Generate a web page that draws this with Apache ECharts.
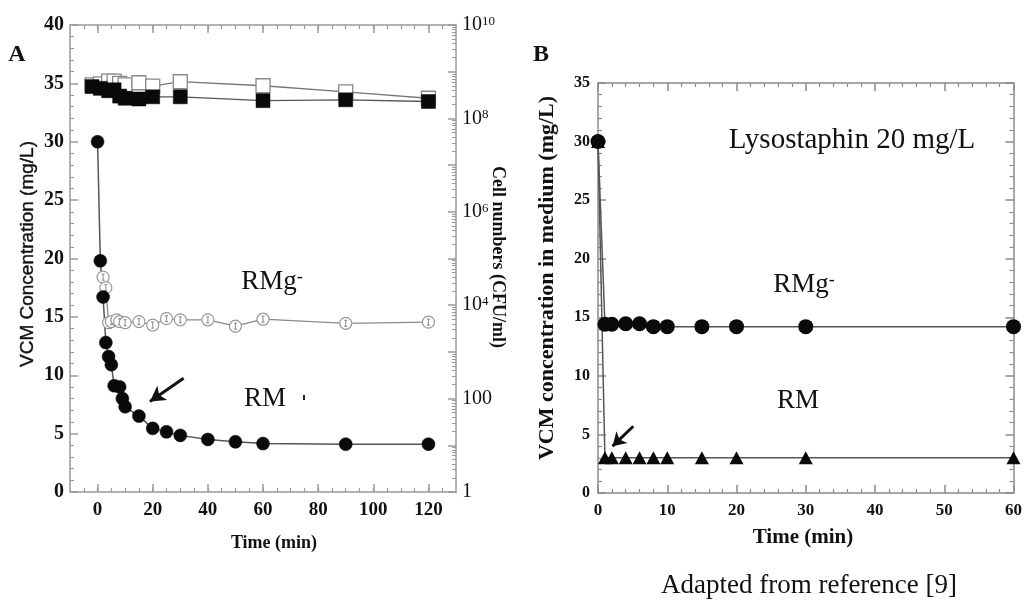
<!DOCTYPE html>
<html>
<head>
<meta charset="utf-8">
<script src="https://cdn.jsdelivr.net/npm/echarts@6/dist/echarts.min.js"></script>
<style>
  html, body { margin: 0; padding: 0; background: #fff; }
  #chart { width: 1025px; height: 602px; }
</style>
</head>
<body>
<div id="chart"></div>
<script>
// ---------- Panel A: VCM in medium and viable cells ----------
// RM medium, VCM concentration (mg/L)
const timeRM_A = [0, 1, 2, 3, 4, 5, 6, 8, 9, 10, 15, 20, 25, 30, 40, 50, 60, 90, 120];
const vcmRM_A  = [30.0, 19.8, 16.7, 12.8, 11.6, 10.9, 9.1, 9.0, 8.0, 7.3, 6.5, 5.45, 5.15, 4.85, 4.5, 4.3, 4.15, 4.1, 4.1];
// RMg- medium, VCM concentration (mg/L)
const timeRMg_A = [2, 3, 4, 5, 7, 8, 10, 15, 20, 25, 30, 40, 50, 60, 90, 120];
const vcmRMg_A  = [18.4, 17.5, 14.5, 14.6, 14.75, 14.6, 14.5, 14.6, 14.3, 14.85, 14.75, 14.75, 14.2, 14.8, 14.45, 14.55];
// Cell numbers (CFU/ml)
const timeCells_A = [-2, 1, 4, 6, 8, 10, 15, 20, 30, 60, 90, 120];
const cellsRM_A   = [4.8e8, 4.4e8, 3.9e8, 4.1e8, 3.0e8, 2.7e8, 2.6e8, 2.9e8, 2.9e8, 2.4e8, 2.5e8, 2.3e8];
const cellsRMg_A  = [5.2e8, 5.5e8, 6.3e8, 6.3e8, 5.6e8, 5.2e8, 5.8e8, 4.9e8, 6.1e8, 5.0e8, 3.7e8, 2.7e8];

// Axis ticks, panel A
const xLabelsA   = [0, 20, 40, 60, 80, 100, 120];
const xMinorA    = [-5, 0, 5, 10, 15, 20, 25, 30, 35, 40, 45, 50, 55, 60, 65, 70, 75, 80, 85, 90, 95, 100, 105, 110, 115, 120, 125];
const cellDecades = [1, 1e1, 1e2, 1e3, 1e4, 1e5, 1e6, 1e7, 1e8, 1e9, 1e10];
const cellLabels  = [1, 1e2, 1e4, 1e6, 1e8, 1e10];

// ---------- Panel B: Lysostaphin 20 mg/L ----------
const timeB    = [0, 1, 2, 4, 6, 8, 10, 15, 20, 30, 60];
const vcmRMg_B = [30, 14.4, 14.4, 14.45, 14.45, 14.2, 14.2, 14.2, 14.2, 14.2, 14.2];
const vcmRM_B  = [30, 3.0, 3.0, 3.0, 3.0, 3.0, 3.0, 3.0, 3.0, 3.0, 3.0];

// log-axis minor tick positions: 2..9 within every decade
const cellMinor = [];
for (let e = 0; e < 10; e++) for (let k = 2; k <= 9; k++) cellMinor.push(k * Math.pow(10, e));

const pairs = (xs, ys) => xs.map((x, i) => [x, ys[i]]);

const AX_A = '#9a9a9a';
const AX_B = '#8a8a8a';
const SERIF = '"Liberation Serif", "DejaVu Serif", serif';
const SANS = '"Liberation Sans", Arial, sans-serif';

const openCirclePath = 'path://M0,-10A10,10 0 1,1 0,10A10,10 0 1,1 0,-10Z M-2.5,-5L2.5,-5M0,-5L0,5M-2.5,5L2.5,5';

const chart = echarts.init(document.getElementById('chart'), null, { renderer: 'canvas' });

const option = {
  backgroundColor: '#fff',
  animation: false,
  grid: [
    { left: 70, top: 25, width: 386, height: 467 },
    { left: 598, top: 83, width: 421, height: 410 }
  ],
  xAxis: [
    { // A bottom, labelled
      gridIndex: 0, type: 'value', min: -10, max: 130, position: 'bottom',
      axisLine: { show: true, onZero: false, lineStyle: { color: AX_A, width: 1.5 } },
      axisTick: { show: true, inside: true, length: 8, customValues: xLabelsA, lineStyle: { color: AX_A, width: 1.5 } },
      axisLabel: { customValues: xLabelsA, margin: 9, color: '#111', fontFamily: SERIF, fontWeight: 'bold', fontSize: 19 },
      splitLine: { show: false }
    },
    { // A bottom, minor ticks
      gridIndex: 0, type: 'value', min: -10, max: 130, position: 'bottom',
      axisLine: { show: false, onZero: false },
      axisTick: { show: true, inside: true, length: 4, customValues: xMinorA, lineStyle: { color: AX_A, width: 1.2 } },
      axisLabel: { show: false }, splitLine: { show: false }
    },
    { // A top frame
      gridIndex: 0, type: 'value', min: -10, max: 130, position: 'top',
      axisLine: { show: true, onZero: false, lineStyle: { color: AX_A, width: 1.5 } },
      axisTick: { show: true, inside: true, length: 8, customValues: xLabelsA, lineStyle: { color: AX_A, width: 1.5 } },
      axisLabel: { show: false }, splitLine: { show: false }
    },
    { // A top minor
      gridIndex: 0, type: 'value', min: -10, max: 130, position: 'top',
      axisLine: { show: false, onZero: false },
      axisTick: { show: true, inside: true, length: 4, customValues: xMinorA, lineStyle: { color: AX_A, width: 1.2 } },
      axisLabel: { show: false }, splitLine: { show: false }
    },
    { // B bottom
      gridIndex: 1, type: 'value', min: 0, max: 60, interval: 10, position: 'bottom',
      axisLine: { show: true, onZero: false, lineStyle: { color: AX_B, width: 1.5 } },
      axisTick: { show: true, inside: true, length: 8, lineStyle: { color: AX_B, width: 1.5 } },
      minorTick: { show: true, splitNumber: 5, length: 4, lineStyle: { color: AX_B, width: 1.2 } },
      axisLabel: { margin: 9, color: '#111', fontFamily: SERIF, fontWeight: 'bold', fontSize: 17 },
      splitLine: { show: false }
    },
    { // B top frame
      gridIndex: 1, type: 'value', min: 0, max: 60, interval: 10, position: 'top',
      axisLine: { show: true, onZero: false, lineStyle: { color: AX_B, width: 1.5 } },
      axisTick: { show: true, inside: true, length: 8, lineStyle: { color: AX_B, width: 1.5 } },
      minorTick: { show: true, splitNumber: 5, length: 4, lineStyle: { color: AX_B, width: 1.2 } },
      axisLabel: { show: false }, splitLine: { show: false }
    }
  ],
  yAxis: [
    { // A left: VCM concentration
      gridIndex: 0, type: 'value', min: 0, max: 40, interval: 5, position: 'left',
      axisLine: { show: true, onZero: false, lineStyle: { color: AX_A, width: 1.5 } },
      axisTick: { show: true, inside: true, length: 8, lineStyle: { color: AX_A, width: 1.5 } },
      minorTick: { show: true, splitNumber: 5, length: 4, lineStyle: { color: AX_A, width: 1.2 } },
      axisLabel: { margin: 6, color: '#111', fontFamily: SERIF, fontWeight: 'bold', fontSize: 20 },
      splitLine: { show: false }
    },
    { // A right: cell numbers (log)
      gridIndex: 0, type: 'log', logBase: 10, min: 1, max: 1e10, position: 'right',
      axisLine: { show: true, onZero: false, lineStyle: { color: AX_A, width: 1.5 } },
      axisTick: { show: true, inside: true, length: 8, customValues: cellDecades, lineStyle: { color: AX_A, width: 1.5 } },
      axisLabel: {
        customValues: cellLabels, margin: 6, color: '#111', fontFamily: SERIF, fontSize: 20,
        formatter: v => {
          const e = Math.round(Math.log10(v));
          if (e === 0) return '1';
          if (e === 2) return '100';
          return '10{sup|' + e + '}';
        },
        rich: { sup: { fontSize: 13, fontFamily: SERIF, color: '#111', verticalAlign: 'top', padding: [0, 0, 6, 0] } }
      },
      splitLine: { show: false }
    },
    { // A right: log minor ticks
      gridIndex: 0, type: 'log', logBase: 10, min: 1, max: 1e10, position: 'right',
      axisLine: { show: false, onZero: false },
      axisTick: { show: true, inside: true, length: 4, customValues: cellMinor, lineStyle: { color: AX_A, width: 1 } },
      axisLabel: { show: false }, splitLine: { show: false }
    },
    { // B left
      gridIndex: 1, type: 'value', min: 0, max: 35, interval: 5, position: 'left',
      axisLine: { show: true, onZero: false, lineStyle: { color: AX_B, width: 1.5 } },
      axisTick: { show: true, inside: true, length: 8, lineStyle: { color: AX_B, width: 1.5 } },
      minorTick: { show: true, splitNumber: 5, length: 4, lineStyle: { color: AX_B, width: 1.2 } },
      axisLabel: { margin: 8, color: '#111', fontFamily: SERIF, fontWeight: 'bold', fontSize: 16 },
      splitLine: { show: false }
    },
    { // B right frame
      gridIndex: 1, type: 'value', min: 0, max: 35, interval: 5, position: 'right',
      axisLine: { show: true, onZero: false, lineStyle: { color: AX_B, width: 1.5 } },
      axisTick: { show: true, inside: true, length: 8, lineStyle: { color: AX_B, width: 1.5 } },
      minorTick: { show: true, splitNumber: 5, length: 4, lineStyle: { color: AX_B, width: 1.2 } },
      axisLabel: { show: false }, splitLine: { show: false }
    }
  ],
  series: [
    { // open squares: cells in RMg-
      name: 'Cells RMg-', type: 'line', xAxisIndex: 0, yAxisIndex: 1,
      data: pairs(timeCells_A, cellsRMg_A), symbol: 'rect', symbolSize: 14, clip: false,
      lineStyle: { color: '#777', width: 1.3 },
      itemStyle: { color: '#fff', borderColor: '#888', borderWidth: 1.3 }
    },
    { // filled squares: cells in RM
      name: 'Cells RM', type: 'line', xAxisIndex: 0, yAxisIndex: 1,
      data: pairs(timeCells_A, cellsRM_A), symbol: 'rect', symbolSize: 14, clip: false,
      lineStyle: { color: '#555', width: 1.3 },
      itemStyle: { color: '#0a0a0a', borderColor: '#0a0a0a', borderWidth: 0.5 }
    },
    { // open circles: VCM in RMg-
      name: 'VCM RMg-', type: 'line', xAxisIndex: 0, yAxisIndex: 0,
      data: pairs(timeRMg_A, vcmRMg_A), symbol: openCirclePath, symbolSize: 12, clip: false,
      lineStyle: { color: '#8a8a8a', width: 1.3 },
      itemStyle: { color: '#fff', borderColor: '#999', borderWidth: 1.2 }
    },
    { // filled circles: VCM in RM
      name: 'VCM RM', type: 'line', xAxisIndex: 0, yAxisIndex: 0,
      data: pairs(timeRM_A, vcmRM_A), symbol: 'circle', symbolSize: 13, clip: false,
      lineStyle: { color: '#555', width: 1.5 },
      itemStyle: { color: '#0a0a0a', borderColor: '#0a0a0a', borderWidth: 0.5 },
      markLine: {
        silent: true, animation: false, label: { show: false },
        lineStyle: { color: '#111', width: 3, type: 'solid' },
        symbolSize: [13, 15],
        data: [[ { coord: [31.2, 9.75], symbol: 'none' }, { coord: [19.0, 7.75], symbol: 'arrow' } ]]
      }
    },
    { // triangles: VCM in RM, panel B
      name: 'B RM', type: 'line', xAxisIndex: 4, yAxisIndex: 3,
      data: pairs(timeB, vcmRM_B), symbol: 'triangle', symbolSize: [14, 13], clip: false,
      lineStyle: { color: '#555', width: 1.5 },
      itemStyle: { color: '#0a0a0a' },
      markLine: {
        silent: true, animation: false, label: { show: false },
        lineStyle: { color: '#111', width: 3, type: 'solid' },
        symbolSize: [12, 13],
        data: [[ { coord: [5.1, 5.7], symbol: 'none' }, { coord: [2.1, 4.0], symbol: 'arrow' } ]]
      }
    },
    { // circles: VCM in RMg-, panel B
      name: 'B RMg-', type: 'line', xAxisIndex: 4, yAxisIndex: 3,
      data: pairs(timeB, vcmRMg_B), symbol: 'circle', symbolSize: 15, clip: false,
      lineStyle: { color: '#555', width: 1.5 },
      itemStyle: { color: '#0a0a0a' }
    }
  ],
  graphic: [
    { type: 'text', x: 17, y: 55, style: { text: 'A', font: 'bold 24px ' + SERIF, fill: '#111', textAlign: 'center', textVerticalAlign: 'middle' } },
    { type: 'text', x: 541, y: 55, style: { text: 'B', font: 'bold 24px ' + SERIF, fill: '#111', textAlign: 'center', textVerticalAlign: 'middle' } },
    { type: 'text', x: 28, y: 254, rotation: Math.PI / 2, style: { text: 'VCM Concentration (mg/L)', font: '19px ' + SANS, fill: '#111', stroke: '#111', lineWidth: 0.4, textAlign: 'center', textVerticalAlign: 'middle' } },
    { type: 'text', x: 498, y: 257, rotation: -Math.PI / 2, style: { text: 'Cell numbers (CFU/ml)', font: 'bold 18px ' + SERIF, fill: '#111', textAlign: 'center', textVerticalAlign: 'middle' } },
    { type: 'text', x: 274, y: 543, style: { text: 'Time (min)', font: 'bold 18px ' + SERIF, fill: '#111', textAlign: 'center', textVerticalAlign: 'middle' } },
    { type: 'text', x: 272, y: 282, style: { text: 'RMg{sup|-}', font: '27px ' + SERIF, fill: '#111', textAlign: 'center', textVerticalAlign: 'middle', rich: { sup: { font: '18px ' + SERIF, fill: '#111', verticalAlign: 'top' } } } },
    { type: 'text', x: 265, y: 399, style: { text: 'RM', font: '27px ' + SERIF, fill: '#111', textAlign: 'center', textVerticalAlign: 'middle' } },
    { type: 'rect', x: 303, y: 395, shape: { width: 2, height: 5 }, style: { fill: '#222' } },
    { type: 'text', x: 547, y: 278, rotation: Math.PI / 2, style: { text: 'VCM concentration in medium (mg/L)', font: 'bold 22px ' + SERIF, fill: '#111', textAlign: 'center', textVerticalAlign: 'middle' } },
    { type: 'text', x: 803, y: 538, style: { text: 'Time (min)', font: 'bold 21px ' + SERIF, fill: '#111', textAlign: 'center', textVerticalAlign: 'middle' } },
    { type: 'text', x: 852, y: 140, style: { text: 'Lysostaphin 20 mg/L', font: '29px ' + SERIF, fill: '#111', textAlign: 'center', textVerticalAlign: 'middle' } },
    { type: 'text', x: 804, y: 285, style: { text: 'RMg{sup|-}', font: '27px ' + SERIF, fill: '#111', textAlign: 'center', textVerticalAlign: 'middle', rich: { sup: { font: '18px ' + SERIF, fill: '#111', verticalAlign: 'top' } } } },
    { type: 'text', x: 798, y: 401, style: { text: 'RM', font: '27px ' + SERIF, fill: '#111', textAlign: 'center', textVerticalAlign: 'middle' } },
    { type: 'text', x: 809, y: 586, style: { text: 'Adapted from reference [9]', font: '27px ' + SERIF, fill: '#111', textAlign: 'center', textVerticalAlign: 'middle' } }
  ]
};

chart.setOption(option);
</script>
</body>
</html>
